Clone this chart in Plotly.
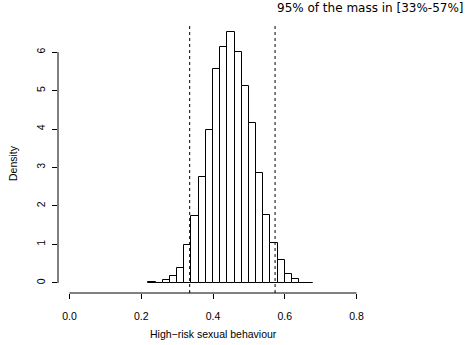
import plotly.graph_objects as go

# Histogram bins (left edges) and density values
bin_left = [0.22, 0.24, 0.26, 0.28, 0.30, 0.32, 0.34, 0.36, 0.38, 0.40, 0.42, 0.44,
            0.46, 0.48, 0.50, 0.52, 0.54, 0.56, 0.58, 0.60, 0.62, 0.64, 0.66]
bin_width = 0.02
density = [0.03, 0.0, 0.07, 0.19, 0.40, 0.99, 1.73, 2.76, 3.97, 5.57, 6.13, 6.52,
           6.00, 5.12, 4.15, 2.85, 1.76, 1.04, 0.60, 0.24, 0.10, 0.0, 0.01]
ci_bounds = [0.335, 0.573]
x_ticks = [0.0, 0.2, 0.4, 0.6, 0.8]
x_tick_labels = ["0.0", "0.2", "0.4", "0.6", "0.8"]
y_ticks = [0, 1, 2, 3, 4, 5, 6]
y_tick_labels = ["0", "1", "2", "3", "4", "5", "6"]
title_text = "95% of the mass in [33%-57%]"
x_label = "High\u2212risk sexual behaviour"
y_label = "Density"

centers = [b + bin_width / 2 for b in bin_left]

fig = go.Figure()
fig.add_trace(go.Bar(
    x=centers, y=density, width=bin_width,
    marker=dict(color="white", line=dict(color="black", width=1)),
    hoverinfo="skip", showlegend=False,
))

shapes = []
# detached R-style axis lines
shapes.append(dict(type="line", xref="x", yref="paper", x0=x_ticks[0], x1=x_ticks[-1], y0=0, y1=0,
                   line=dict(color="black", width=1)))
shapes.append(dict(type="line", xref="paper", yref="y", x0=0, x1=0, y0=y_ticks[0], y1=y_ticks[-1],
                   line=dict(color="black", width=1)))
for v in ci_bounds:
    shapes.append(dict(type="line", xref="x", yref="paper", x0=v, x1=v, y0=0, y1=0.993,
                       line=dict(color="black", width=1, dash="3px,3px")))

tick_font = dict(family="Liberation Sans, Arial, sans-serif", size=10.5, color="black")

fig.update_layout(
    width=472, height=345,
    margin=dict(l=58, r=104, t=22, b=52),
    paper_bgcolor="white", plot_bgcolor="white",
    bargap=0,
    shapes=shapes,
    xaxis=dict(range=[-0.032, 0.832], tickvals=x_ticks, ticktext=x_tick_labels,
               ticks="outside", ticklen=5, tickwidth=1, tickcolor="black",
               showline=False, showgrid=False, zeroline=False, tickfont=tick_font,
               ticklabelstandoff=8),
    yaxis=dict(range=[-0.2608, 6.7808], tickvals=y_ticks, ticktext=y_tick_labels,
               ticks="outside", ticklen=5, tickwidth=1, tickcolor="black",
               showline=False, showgrid=False, zeroline=False, tickfont=tick_font,
               tickangle=-90, ticklabelstandoff=3),
    annotations=[
        dict(text=title_text, xref="paper", yref="paper", x=0.700, y=1.052,
             xanchor="left", yanchor="middle", showarrow=False,
             font=dict(family="DejaVu Sans, sans-serif", size=12, color="black")),
        dict(text=x_label, xref="paper", yref="paper", x=0.5, y=-0.15,
             xanchor="center", yanchor="middle", showarrow=False,
             font=tick_font),
        dict(text=y_label, xref="paper", yref="paper", x=-0.145, y=0.48,
             xanchor="center", yanchor="middle", showarrow=False, textangle=-90,
             font=tick_font),
    ],
)

# remove the browser's default 8px body margin so the figure fills the window
fig.write_html("out.html", config={"displayModeBar": False},
               post_script="document.body.style.margin='0';")
